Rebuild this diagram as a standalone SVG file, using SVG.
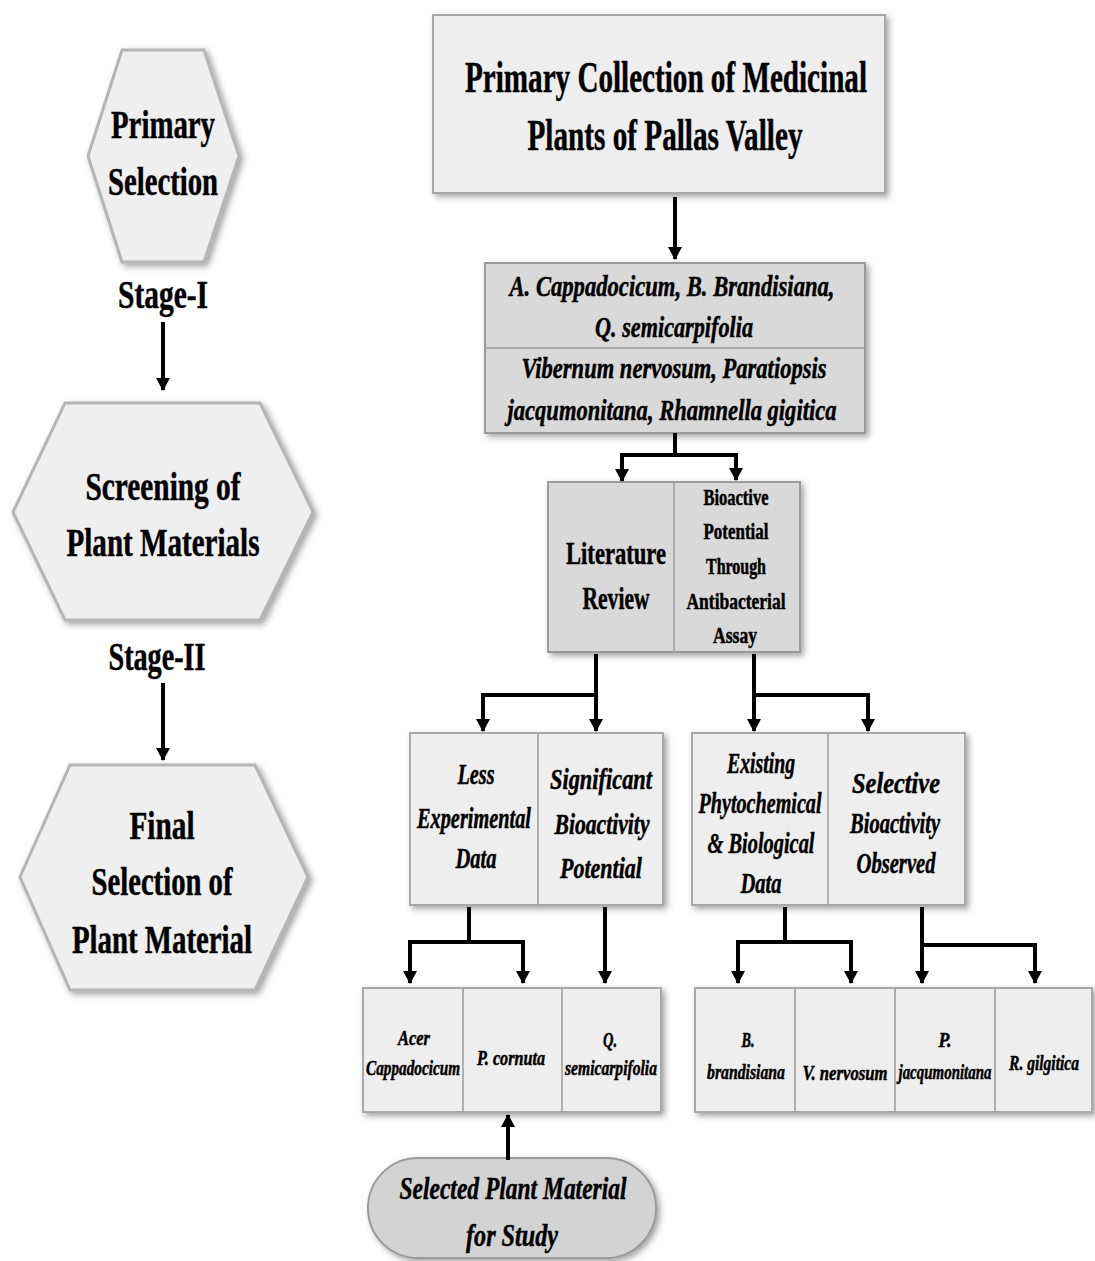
<svg xmlns="http://www.w3.org/2000/svg" width="1095" height="1261" viewBox="0 0 1095 1261">
<style>
.t{font-family:"Liberation Serif","Times New Roman",serif;font-weight:bold;fill:#000;stroke:#000;stroke-width:0.5;text-anchor:middle}
.i{font-style:italic}
.hex{fill:#efefef;stroke:#b5b5b5;stroke-width:3}
.lt{fill:#eeeeee;stroke:#a8a8a8;stroke-width:2}
.dk{fill:#d9d9d9;stroke:#9a9a9a;stroke-width:2}
.dv{stroke:#9a9a9a;stroke-width:1.5}
.c{fill:none;stroke:#000;stroke-width:4}
</style>
<defs>
<filter id="sh" x="-10%" y="-10%" width="125%" height="125%">
<feDropShadow dx="3" dy="3" stdDeviation="3" flood-color="#555" flood-opacity="0.55"/>
</filter>
<marker id="ah" markerUnits="userSpaceOnUse" markerWidth="14" markerHeight="14" refX="12" refY="7" orient="auto">
<path d="M0,0 L13,7 L0,14 z" fill="#000"/>
</marker>
</defs>
<rect width="1095" height="1261" fill="#fff"/>

<g id="hex1">
<polygon class="hex" filter="url(#sh)" points="122,50 204,50 239,156 204,262 122,262 88,156"/>
<text class="t" x="163" y="138" font-size="40" textLength="104" lengthAdjust="spacingAndGlyphs">Primary</text>
<text class="t" x="163" y="195" font-size="40" textLength="110" lengthAdjust="spacingAndGlyphs">Selection</text>
</g>
<text class="t" x="163" y="308" font-size="40" textLength="90" lengthAdjust="spacingAndGlyphs">Stage-I</text>

<g id="hex2">
<polygon class="hex" filter="url(#sh)" points="65,403 260,403 313,512 260,620 65,620 13,512"/>
<text class="t" x="163" y="500" font-size="40" textLength="155" lengthAdjust="spacingAndGlyphs">Screening of</text>
<text class="t" x="163" y="556" font-size="40" textLength="193" lengthAdjust="spacingAndGlyphs">Plant Materials</text>
</g>
<text class="t" x="157" y="670" font-size="40" textLength="97" lengthAdjust="spacingAndGlyphs">Stage-II</text>

<g id="hex3">
<polygon class="hex" filter="url(#sh)" points="70,765 255,765 308,877 255,990 70,990 20,877"/>
<text class="t" x="162" y="839" font-size="40" textLength="65" lengthAdjust="spacingAndGlyphs">Final</text>
<text class="t" x="162" y="895" font-size="40" textLength="141" lengthAdjust="spacingAndGlyphs">Selection of</text>
<text class="t" x="162" y="953" font-size="40" textLength="180" lengthAdjust="spacingAndGlyphs">Plant Material</text>
</g>

<g id="top">
<rect class="lt" filter="url(#sh)" x="433" y="15" width="452" height="178" fill="#f0f0f0" stroke="#999"/>
<text class="t" x="666" y="92" font-size="44" textLength="402" lengthAdjust="spacingAndGlyphs">Primary Collection of Medicinal</text>
<text class="t" x="665" y="150" font-size="44" textLength="275" lengthAdjust="spacingAndGlyphs">Plants of Pallas Valley</text>
</g>

<g id="species">
<rect class="dk" filter="url(#sh)" x="485" y="263" width="380" height="170"/>
<line class="dv" x1="485" y1="348" x2="865" y2="348"/>
<text class="t i" x="672" y="296" font-size="30" textLength="325" lengthAdjust="spacingAndGlyphs">A. Cappadocicum, B. Brandisiana,</text>
<text class="t i" x="674" y="337" font-size="30" textLength="158" lengthAdjust="spacingAndGlyphs">Q. semicarpifolia</text>
<text class="t i" x="674" y="378" font-size="30" textLength="305" lengthAdjust="spacingAndGlyphs">Vibernum nervosum, Paratiopsis</text>
<text class="t i" x="672" y="420" font-size="30" textLength="329" lengthAdjust="spacingAndGlyphs">jacqumonitana, Rhamnella gigitica</text>
</g>

<g id="litbio">
<rect class="dk" filter="url(#sh)" x="548" y="482" width="252" height="170"/>
<line class="dv" x1="674" y1="482" x2="674" y2="652"/>
<text class="t" x="616" y="564" font-size="32" textLength="100" lengthAdjust="spacingAndGlyphs">Literature</text>
<text class="t" x="616" y="609" font-size="32" textLength="67" lengthAdjust="spacingAndGlyphs">Review</text>
<text class="t" x="736" y="505" font-size="23" textLength="65" lengthAdjust="spacingAndGlyphs">Bioactive</text>
<text class="t" x="736" y="539" font-size="23" textLength="65" lengthAdjust="spacingAndGlyphs">Potential</text>
<text class="t" x="736" y="574" font-size="23" textLength="60" lengthAdjust="spacingAndGlyphs">Through</text>
<text class="t" x="736" y="609" font-size="23" textLength="99" lengthAdjust="spacingAndGlyphs">Antibacterial</text>
<text class="t" x="735" y="643" font-size="23" textLength="44" lengthAdjust="spacingAndGlyphs">Assay</text>
</g>

<g id="midleft">
<rect class="lt" filter="url(#sh)" x="410" y="733" width="253" height="172"/>
<line class="dv" x1="538" y1="733" x2="538" y2="905"/>
<text class="t i" x="476" y="784" font-size="30" textLength="37" lengthAdjust="spacingAndGlyphs">Less</text>
<text class="t i" x="474" y="828" font-size="30" textLength="114" lengthAdjust="spacingAndGlyphs">Experimental</text>
<text class="t i" x="476" y="868" font-size="30" textLength="41" lengthAdjust="spacingAndGlyphs">Data</text>
<text class="t i" x="601" y="789" font-size="30" textLength="102" lengthAdjust="spacingAndGlyphs">Significant</text>
<text class="t i" x="602" y="834" font-size="30" textLength="95" lengthAdjust="spacingAndGlyphs">Bioactivity</text>
<text class="t i" x="601" y="878" font-size="30" textLength="82" lengthAdjust="spacingAndGlyphs">Potential</text>
</g>

<g id="midright">
<rect class="lt" filter="url(#sh)" x="692" y="733" width="273" height="172"/>
<line class="dv" x1="828" y1="733" x2="828" y2="905"/>
<text class="t i" x="761" y="773" font-size="30" textLength="68" lengthAdjust="spacingAndGlyphs">Existing</text>
<text class="t i" x="760" y="813" font-size="30" textLength="123" lengthAdjust="spacingAndGlyphs">Phytochemical</text>
<text class="t i" x="761" y="853" font-size="30" textLength="107" lengthAdjust="spacingAndGlyphs">&amp; Biological</text>
<text class="t i" x="761" y="893" font-size="30" textLength="41" lengthAdjust="spacingAndGlyphs">Data</text>
<text class="t i" x="896" y="793" font-size="30" textLength="88" lengthAdjust="spacingAndGlyphs">Selective</text>
<text class="t i" x="895" y="833" font-size="30" textLength="90" lengthAdjust="spacingAndGlyphs">Bioactivity</text>
<text class="t i" x="896" y="873" font-size="30" textLength="79" lengthAdjust="spacingAndGlyphs">Observed</text>
</g>

<g id="botleft">
<rect class="lt" filter="url(#sh)" x="363" y="988" width="298" height="124"/>
<line class="dv" x1="463" y1="988" x2="463" y2="1112"/>
<line class="dv" x1="562" y1="988" x2="562" y2="1112"/>
<text class="t i" x="414" y="1045" font-size="21" textLength="32" lengthAdjust="spacingAndGlyphs">Acer</text>
<text class="t i" x="413" y="1075" font-size="21" textLength="94" lengthAdjust="spacingAndGlyphs">Cappadocicum</text>
<text class="t i" x="511" y="1065" font-size="21" textLength="68" lengthAdjust="spacingAndGlyphs">P. cornuta</text>
<text class="t i" x="610" y="1047" font-size="21" textLength="14" lengthAdjust="spacingAndGlyphs">Q.</text>
<text class="t i" x="611" y="1075" font-size="21" textLength="92" lengthAdjust="spacingAndGlyphs">semicarpifolia</text>
</g>

<g id="botright">
<rect class="lt" filter="url(#sh)" x="695" y="988" width="397" height="124"/>
<line class="dv" x1="795" y1="988" x2="795" y2="1112"/>
<line class="dv" x1="895" y1="988" x2="895" y2="1112"/>
<line class="dv" x1="995" y1="988" x2="995" y2="1112"/>
<text class="t i" x="748" y="1047" font-size="21" textLength="13" lengthAdjust="spacingAndGlyphs">B.</text>
<text class="t i" x="746" y="1079" font-size="21" textLength="78" lengthAdjust="spacingAndGlyphs">brandisiana</text>
<text class="t i" x="845" y="1080" font-size="21" textLength="85" lengthAdjust="spacingAndGlyphs">V. nervosum</text>
<text class="t i" x="945" y="1047" font-size="21" textLength="13" lengthAdjust="spacingAndGlyphs">P.</text>
<text class="t i" x="945" y="1079" font-size="21" textLength="93" lengthAdjust="spacingAndGlyphs">jacqumonitana</text>
<text class="t i" x="1044" y="1070" font-size="21" textLength="70" lengthAdjust="spacingAndGlyphs">R. gilgitica</text>
</g>

<g id="selected">
<rect filter="url(#sh)" x="368" y="1158" width="288" height="100" rx="50" ry="50" fill="#d3d3d3" stroke="#9a9a9a" stroke-width="2"/>
<text class="t i" x="513" y="1199" font-size="32" textLength="227" lengthAdjust="spacingAndGlyphs">Selected Plant Material</text>
<text class="t i" x="512" y="1246" font-size="32" textLength="92" lengthAdjust="spacingAndGlyphs">for Study</text>
</g>

<g id="connectors">
<line class="c" x1="163" y1="322" x2="163" y2="390" marker-end="url(#ah)"/>
<line class="c" x1="163" y1="683" x2="163" y2="760" marker-end="url(#ah)"/>
<line class="c" x1="675" y1="197" x2="675" y2="259" marker-end="url(#ah)"/>
<line class="c" x1="675" y1="433" x2="675" y2="455"/>
<polyline class="c" points="622,455 736,455 736,480" marker-end="url(#ah)"/>
<line class="c" x1="622" y1="453" x2="622" y2="481" marker-end="url(#ah)"/>
<line class="c" x1="596" y1="654" x2="596" y2="695"/>
<polyline class="c" points="483,695 596,695"/>
<line class="c" x1="483" y1="693" x2="483" y2="731" marker-end="url(#ah)"/>
<line class="c" x1="596" y1="695" x2="596" y2="731" marker-end="url(#ah)"/>
<line class="c" x1="754" y1="654" x2="754" y2="731" marker-end="url(#ah)"/>
<polyline class="c" points="754,695 868,695"/>
<line class="c" x1="868" y1="693" x2="868" y2="731" marker-end="url(#ah)"/>
<line class="c" x1="469" y1="907" x2="469" y2="942"/>
<polyline class="c" points="410,942 523,942"/>
<line class="c" x1="410" y1="940" x2="410" y2="983" marker-end="url(#ah)"/>
<line class="c" x1="523" y1="940" x2="523" y2="983" marker-end="url(#ah)"/>
<line class="c" x1="605" y1="907" x2="605" y2="983" marker-end="url(#ah)"/>
<line class="c" x1="785" y1="907" x2="785" y2="942"/>
<polyline class="c" points="738,942 851,942"/>
<line class="c" x1="738" y1="940" x2="738" y2="983" marker-end="url(#ah)"/>
<line class="c" x1="851" y1="940" x2="851" y2="983" marker-end="url(#ah)"/>
<line class="c" x1="922" y1="907" x2="922" y2="983" marker-end="url(#ah)"/>
<polyline class="c" points="922,945 1035,945"/>
<line class="c" x1="1035" y1="943" x2="1035" y2="983" marker-end="url(#ah)"/>
<line class="c" x1="508" y1="1160" x2="508" y2="1115" marker-end="url(#ah)"/>
</g>
</svg>
